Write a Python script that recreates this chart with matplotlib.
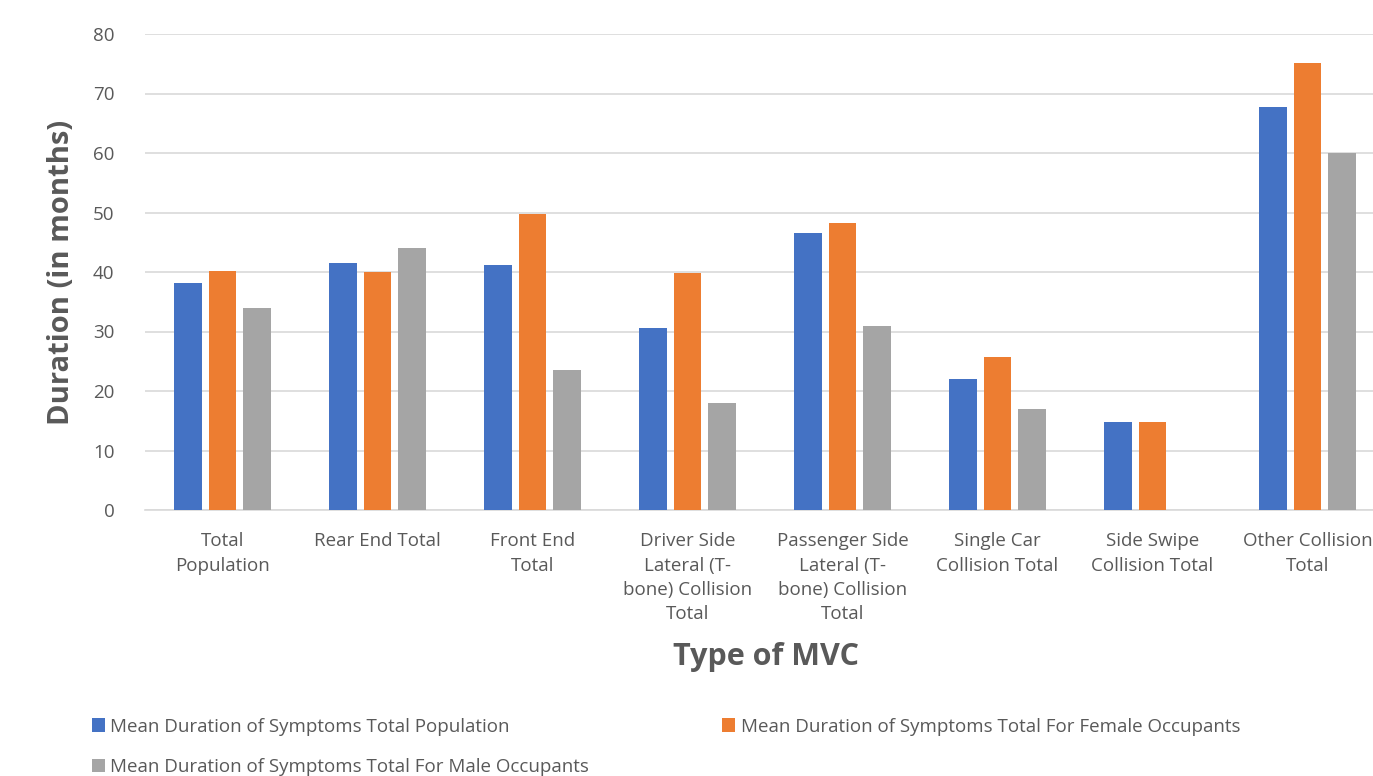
import matplotlib
matplotlib.use("Agg")
import matplotlib.pyplot as plt
import numpy as np

categories = ["Total\nPopulation", "Rear End Total", "Front End\nTotal",
              "Driver Side\nLateral (T-\nbone) Collision\nTotal",
              "Passenger Side\nLateral (T-\nbone) Collision\nTotal",
              "Single Car\nCollision Total", "Side Swipe\nCollision Total",
              "Other Collision\nTotal"]
series_names = ["Mean Duration of Symptoms Total Population",
                "Mean Duration of Symptoms Total For Female Occupants",
                "Mean Duration of Symptoms Total For Male Occupants"]
total_pop = [38.2, 41.5, 41.1, 30.6, 46.6, 22.0, 14.8, 67.7]
female = [40.2, 40.0, 49.8, 39.8, 48.3, 25.7, 14.8, 75.2]
male = [34.0, 44.1, 23.5, 18.0, 31.0, 17.0, 0.0, 60.0]
yticks = [0, 10, 20, 30, 40, 50, 60, 70, 80]

colors = ["#4472C4", "#ED7D31", "#A5A5A5"]
txt = "#595959"
font = "Open Sans"

fig = plt.figure(figsize=(13.73, 7.76), dpi=100)
# axis spans beyond right edge (clipped like the reference)
ax = fig.add_axes([145/1373, 1-510/776, 1240/1373, (510-34)/776])

x = np.arange(len(categories))
w = 0.18
step = 0.22
bars = []
for i, vals in enumerate([total_pop, female, male]):
    bars.append(ax.bar(x + (i-1)*step, vals, width=w, color=colors[i],
                       label=series_names[i], zorder=3))

ax.set_xlim(-0.5, len(categories)-0.5)
ax.set_ylim(0, 80)
ax.set_yticks(yticks)
ax.set_xticks(x)
ax.set_xticklabels(categories, fontsize=13.5, color=txt, family=font, linespacing=1.45)
ax.tick_params(axis='y', labelsize=13.5, labelcolor=txt, length=0, pad=22)
ax.tick_params(axis='x', length=0, pad=16)
for lab in ax.get_yticklabels():
    lab.set_family(font)
ax.grid(axis='y', color="#D9D9D9", linewidth=1.2, zorder=0)
for s in ['top', 'right', 'left']:
    ax.spines[s].set_visible(False)
ax.spines['bottom'].set_color("#D9D9D9")
ax.spines['bottom'].set_linewidth(1.2)

fig.text(62/1373, 1-272/776, "Duration (in months)", rotation=90, fontsize=21,
         fontweight='bold', color=txt, family=font, ha='center', va='center')
fig.text(766/1373, 1-657/776, "Type of MVC", fontsize=22, fontweight='bold',
         color=txt, family=font, ha='center', va='center')

handles = [bars[0], bars[2], bars[1]]
labels = [series_names[0], series_names[2], series_names[1]]
leg = fig.legend(handles, labels, loc='upper left', bbox_to_anchor=(84/1373, 1-710/776),
                 ncol=2, frameon=False, handlelength=0.7, handleheight=0.7,
                 handletextpad=0.3, columnspacing=7.1, labelspacing=1.22,
                 borderaxespad=0, borderpad=0.4,
                 prop={'family': font, 'size': 13.5})
for t in leg.get_texts():
    t.set_color(txt)

fig.savefig("out.png", dpi=100)
